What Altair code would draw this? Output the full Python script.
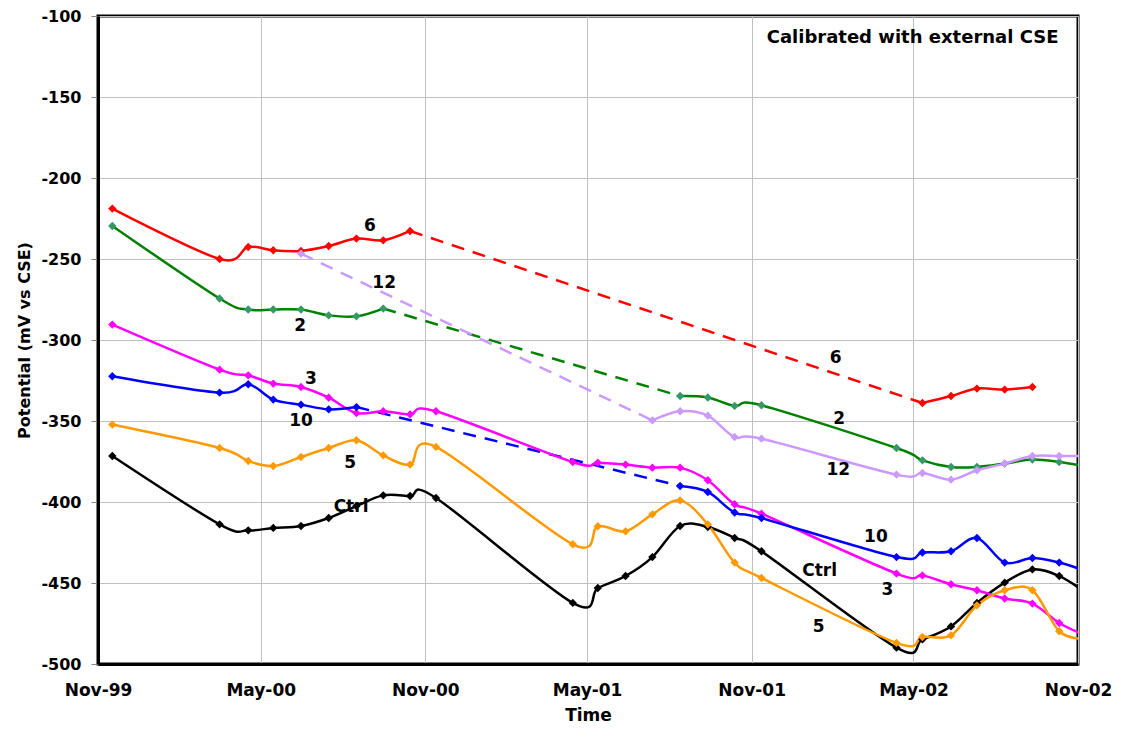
import altair as alt
import pandas as pd

# Measurement dates (columns shared by all series)
DATES = ["1999-11-17", "2000-03-16", "2000-04-17", "2000-05-15", "2000-06-15",
         "2000-07-16", "2000-08-16", "2000-09-15", "2000-10-15", "2000-11-13",
         "2001-04-15", "2001-05-13", "2001-06-13", "2001-07-13", "2001-08-13",
         "2001-09-13", "2001-10-13", "2001-11-12", "2002-04-12", "2002-05-11",
         "2002-06-12", "2002-07-11", "2002-08-11", "2002-09-11", "2002-10-11",
         "2002-11-07"]

N = None
CTRL = [-371.6, -413.8, -417.5, -416.0, -414.8, -409.9, -402.5, -395.9, -396.3, -397.5,
        -462.3, -453.1, -445.7, -434.0, -414.8, -415.4, -422.2, -430.4, -489.9, -484.8,
        -476.8, -462.3, -449.8, -441.6, -445.7, -454.9]
S2 = [-229.6, -274.4, -281.2, -281.2, -281.2, -284.8, -285.4, -280.6, N, N,
      N, N, N, N, -334.6, -335.5, -340.7, -340.3, -366.7, -374.3,
      -378.4, -378.4, -376.3, -373.8, -375.3, -377.8]
S3 = [-290.5, -318.3, -321.8, -326.9, -329.0, -335.6, -345.1, -344.0, -345.9, -344.0,
      -375.3, -375.7, -376.9, -378.8, -378.8, -386.6, -401.4, -407.2, -444.2, -445.3,
      -450.8, -454.5, -459.6, -462.7, -474.7, -481.7]
S5 = [-352.2, -366.7, -374.7, -377.8, -372.2, -366.7, -361.9, -371.2, -376.9, -366.0,
      -426.1, -415.0, -418.1, -407.6, -399.0, -413.8, -437.4, -446.9, -487.0, -483.3,
      -482.3, -463.8, -454.5, -454.5, -479.8, -484.3]
S6 = [-218.9, -250.0, -242.6, -244.6, -245.0, -242.0, -237.4, -238.5, -232.7, N,
      N, N, N, N, N, N, N, N, N, -338.9,
      -334.6, -330.0, -330.6, -329.0, N, N]
S10 = [-322.4, -332.5, -327.3, -336.8, -339.9, -342.8, -341.4, N, N, N,
       N, N, N, N, -390.1, -393.8, -406.5, -409.9, -434.0, -431.2,
       -430.4, -422.2, -437.4, -434.6, -437.4, -442.2]
S12 = [N, N, N, N, -246.7, N, N, N, N, N,
       N, N, N, -349.6, -344.0, -346.7, -359.9, -360.9, -383.1, -382.1,
       -386.2, -380.4, -376.3, -371.6, -371.6, -371.6]

SERIES = ["Ctrl", "2", "3", "5", "6", "10", "12"]
VALUES = [CTRL, S2, S3, S5, S6, S10, S12]
LINE_COLORS = ["#000000", "#008000", "#ff00ff", "#ff9900", "#ff0000", "#0000ff", "#cc99ff"]
MARKER_COLORS = ["#000000", "#339966", "#ff00ff", "#ff9900", "#ff0000", "#0000ff", "#cc99ff"]

# Series labels written on the chart
LABEL_TEXT = ["6", "12", "2", "3", "10", "5", "Ctrl",
              "6", "2", "12", "10", "Ctrl", "3", "5"]
LABEL_DATES = ["2000-08-31", "2000-09-16", "2000-06-14", "2000-06-26", "2000-06-15",
               "2000-08-09", "2000-08-10", "2002-02-03", "2002-02-07", "2002-02-06",
               "2002-03-20", "2002-01-16", "2002-04-02", "2002-01-15"]
LABEL_VALUES = [-229.8, -265.0, -291.5, -324.0, -350.2, -376.1, -403.3,
                -311.3, -349.0, -380.5, -421.8, -442.8, -454.5, -477.4]

NOTE_TEXT = ["Calibrated with external CSE"]
NOTE_DATES = ["2002-04-30"]
NOTE_VALUES = [-113.8]

# Build tables
solid, dashed, markers = [], [], []
for name, vals in zip(SERIES, VALUES):
    seg = 0
    last = None
    prev_none = False
    for d, v in zip(DATES, vals):
        if v is None:
            prev_none = True
            continue
        if last is not None and prev_none:
            seg += 1
            dashed.append({"series": name, "seg": f"{name}-d{seg}", "date": last[0], "value": last[1]})
            dashed.append({"series": name, "seg": f"{name}-d{seg}", "date": d, "value": v})
        prev_none = False
        solid.append({"series": name, "seg": f"{name}-{seg}", "date": d, "value": v})
        markers.append({"series": name, "date": d, "value": v})
        last = (d, v)

solid_df = pd.DataFrame(solid)
dashed_df = pd.DataFrame(dashed)
marker_df = pd.DataFrame(markers)
label_df = pd.DataFrame({"text": LABEL_TEXT, "date": LABEL_DATES, "value": LABEL_VALUES})
note_df = pd.DataFrame({"text": NOTE_TEXT, "date": NOTE_DATES, "value": NOTE_VALUES})

FONT = "DejaVu Sans"

tick_dates = [alt.DateTime(year=y, month=m, date=1, utc=True)
              for y, m in [(1999, 11), (2000, 5), (2000, 11), (2001, 5), (2001, 11), (2002, 5), (2002, 11)]]

x_enc = alt.X("date:T",
              scale=alt.Scale(type="utc", domain=[tick_dates[0], tick_dates[-1]]),
              axis=alt.Axis(values=tick_dates, format="%b-%y", title="Time",
                            ticks=False, labelPadding=18, titlePadding=9,
                            labelFontSize=17, labelFlush=False))
y_enc = alt.Y("value:Q",
              scale=alt.Scale(domain=[-500, -100], nice=False, zero=False),
              axis=alt.Axis(values=list(range(-500, -99, 50)), labelExpr="'' + datum.value",
                            title="Potential (mV vs CSE)", tickSize=7, tickColor="#888888",
                            labelPadding=10, titlePadding=8, labelFontSize=16,
                            titleFontSize=16))

color_line = alt.Color("series:N", scale=alt.Scale(domain=SERIES, range=LINE_COLORS), legend=None)
color_mark = alt.Color("series:N", scale=alt.Scale(domain=SERIES, range=MARKER_COLORS), legend=None)

lines = alt.Chart(solid_df).mark_line(strokeWidth=2.5, interpolate="cardinal", clip=True).encode(
    x=x_enc, y=y_enc, color=color_line, detail="seg:N")
dashes = alt.Chart(dashed_df).mark_line(strokeWidth=2.5, strokeDash=[13, 9], clip=True).encode(
    x="date:T", y="value:Q",
    color=alt.Color("series:N", scale=alt.Scale(domain=SERIES, range=LINE_COLORS), legend=None),
    detail="seg:N")
points = alt.Chart(marker_df).mark_point(shape="diamond", filled=True, size=70, opacity=1, clip=True).encode(
    x="date:T", y="value:Q", color=color_mark)
texts = alt.Chart(label_df).mark_text(font=FONT, fontWeight="bold", fontSize=17, color="black",
                                      align="center", baseline="middle").encode(
    x="date:T", y="value:Q", text="text:N")
note = alt.Chart(note_df).mark_text(font=FONT, fontWeight="bold", fontSize=18, color="black",
                                    align="center", baseline="middle").encode(
    x="date:T", y="value:Q", text="text:N")

chart = alt.layer(dashes, lines, points, texts, note).resolve_scale(color="independent").properties(
    width=980, height=648,
    padding={"left": 90, "top": 8, "right": 34, "bottom": 64},
    autosize="none",
    background="white",
).configure_view(stroke="black", strokeWidth=3).configure_axis(
    grid=True, gridColor="#c0c0c0", gridWidth=1,
    domain=True, domainColor="black", domainWidth=3,
    labelFont=FONT, labelFontWeight="bold", labelColor="black",
    titleFont=FONT, titleFontWeight="bold", titleFontSize=17, titleColor="black",
)

chart.save("out.html", embed_options={"renderer": "svg", "actions": False})
